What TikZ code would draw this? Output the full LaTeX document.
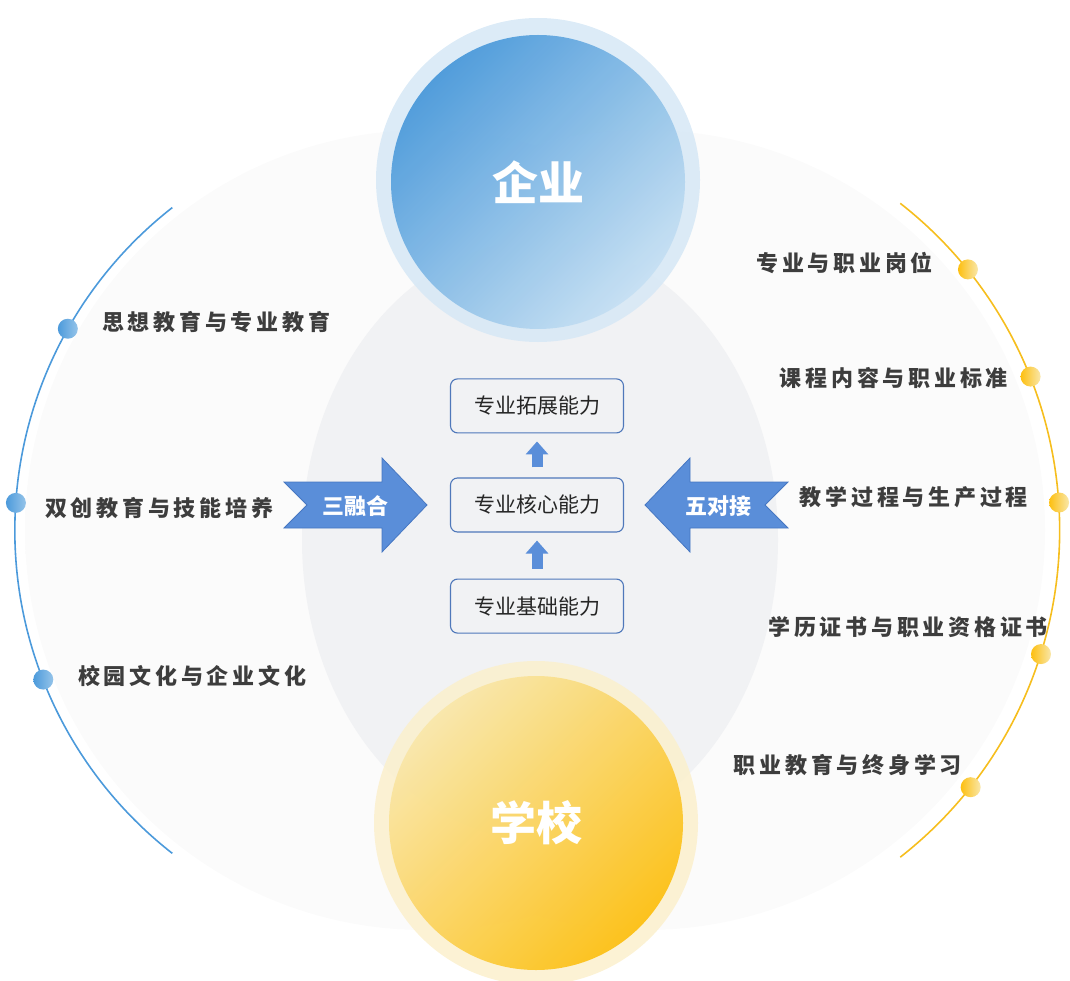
\documentclass[tikz,border=0pt]{standalone}
\usepackage{fontspec}
\setmainfont{Noto Sans CJK SC}
\newfontfamily\cjkspaced[LetterSpace=17]{Noto Sans CJK SC}
\usetikzlibrary{arrows.meta, calc, positioning, fadings}

\definecolor{bluedeep}{HTML}{4898DA}
\definecolor{bluepale}{HTML}{C6E0F3}
\definecolor{bluehalo}{HTML}{D6E8F6}
\definecolor{yellowpale}{HTML}{F9E7AA}
\definecolor{yellowdeep}{HTML}{FDBF10}
\definecolor{yellowhalo}{HTML}{FBF0CD}
\definecolor{arrowblue}{HTML}{5A8ED9}
\definecolor{arrowedge}{HTML}{4677C2}
\definecolor{boxline}{HTML}{4F78BA}
\definecolor{midgray}{HTML}{F1F2F4}
\definecolor{sidegray}{HTML}{F3F4F5}
\definecolor{labelgray}{HTML}{3D3D3D}
\definecolor{arcblue}{HTML}{4C9ADB}
\definecolor{arcyellow}{HTML}{F6BE1E}

\pgfdeclareverticalshading{arcends}{100bp}{color(0bp)=(pgftransparent!100);
  color(14bp)=(pgftransparent!0); color(86bp)=(pgftransparent!0);
  color(100bp)=(pgftransparent!100)}
\pgfdeclarefading{arcfade}{\pgfuseshading{arcends}}

\begin{document}
\begin{tikzpicture}[x=1pt, y=-1pt,
  every node/.style = {align=center, inner sep=0pt},
  ability/.style = {draw=boxline, line width=1.1pt, rounded corners=7pt,
    minimum width=173pt, minimum height=54pt, text=black!85,
    font=\fontsize{21}{21}\selectfont},
  hub/.style = {circle, minimum size=294pt, fill opacity=0.93, text opacity=1,
    text=white, font=\bfseries\fontsize{46}{46}\selectfont},
  lefttopic/.style = {anchor=west, text=labelgray,
    font=\cjkspaced\bfseries\fontsize{22}{22}\selectfont},
  righttopic/.style = {lefttopic, anchor=east},
  bluedot/.style = {circle, minimum size=20pt, left color=arcblue,
    right color=bluepale!60!arcblue},
  yellowdot/.style = {circle, minimum size=20pt, left color=yellowdeep,
    right color=yellowpale},
  rise/.style = {draw=arrowblue, line width=11pt, shorten <=10pt, shorten >=8pt,
    -{Triangle[length=13pt, width=22pt]}},
  fatarrow/.style = {fill=arrowblue, draw=arrowedge, line width=0.8pt},
  arrowtext/.style = {text=white, font=\bfseries\fontsize{22}{22}\selectfont}]

  \useasboundingbox (0,0) rectangle (1070,981);

  \coordinate (lc) at (425,530);
  \coordinate (rc) at (645,530);

  \shade[left color=sidegray!35, middle color=sidegray, right color=sidegray!35]
    (lc) circle[radius=400] (rc) circle[radius=400];
  \fill[midgray] (540,540) ellipse[x radius=238, y radius=300];

  \fill[bluehalo, fill opacity=0.85] (538,180) circle[radius=162];
  \node[hub, left color=bluedeep, right color=bluepale, shading angle=45]
    (qiye) at (538,182) {企业};
  \fill[yellowhalo, fill opacity=0.85] (536,823) circle[radius=162];
  \node[hub, left color=yellowpale, right color=yellowdeep, shading angle=45]
    (xuexiao) at (536,823) {学校};

  \draw[arcblue, line width=1.6pt, path fading=arcfade]
    (lc) ++(128:410) arc[start angle=128, end angle=232, radius=410];
  \draw[arcyellow, line width=1.6pt, path fading=arcfade]
    (rc) ++(52:415) arc[start angle=52, end angle=-52, radius=415];

  \node[bluedot] (ld1) at ($(lc)+(-150.6:410)$) {};
  \node[bluedot] (ld2) at ($(lc)+(-176.2:410)$) {};
  \node[bluedot] (ld3) at ($(lc)+(-201.4:410)$) {};
  \node[yellowdot] (rd1) at ($(rc)+(-38.9:415)$) {};
  \node[yellowdot] (rd2) at ($(rc)+(-21.7:415)$) {};
  \node[yellowdot] (rd3) at ($(rc)+(-3.8:415)$) {};
  \node[yellowdot] (rd4) at ($(rc)+(17.4:415)$) {};
  \node[yellowdot] (rd5) at ($(rc)+(38.3:415)$) {};

  \node[lefttopic] (lt1) at (102,322) {思想教育与专业教育};
  \node[lefttopic] (lt2) at (45,508) {双创教育与技能培养};
  \node[lefttopic] (lt3) at (78,676) {校园文化与企业文化};
  \node[righttopic] (rt1) at (933,263) {专业与职业岗位};
  \node[righttopic] (rt2) at (1008,378) {课程内容与职业标准};
  \node[righttopic] (rt3) at (1028,497) {教学过程与生产过程};
  \node[righttopic] (rt4) at (1048,627) {学历证书与职业资格证书};
  \node[righttopic] (rt5) at (962,765) {职业教育与终身学习};

  \node[ability] (core) at (537,505) {专业核心能力};
  \node[ability, above=44pt of core] (expand) {专业拓展能力};
  \node[ability, below=46pt of core] (base) {专业基础能力};
  \draw[rise] (core) -- (expand);
  \draw[rise] (base) -- (core);

  \draw[fatarrow] (284,482) -- (382,482) -- (382,458) -- (427,505) -- (382,552)
    -- (382,528) -- (284,528) -- (307,505) -- cycle;
  \node[arrowtext] (sanrh) at (355,506) {三融合};
  \draw[fatarrow] (788,482) -- (690,482) -- (690,458) -- (645,505) -- (690,552)
    -- (690,528) -- (788,528) -- (765,505) -- cycle;
  \node[arrowtext] (wudj) at (718,506) {五对接};
\end{tikzpicture}
\end{document}
